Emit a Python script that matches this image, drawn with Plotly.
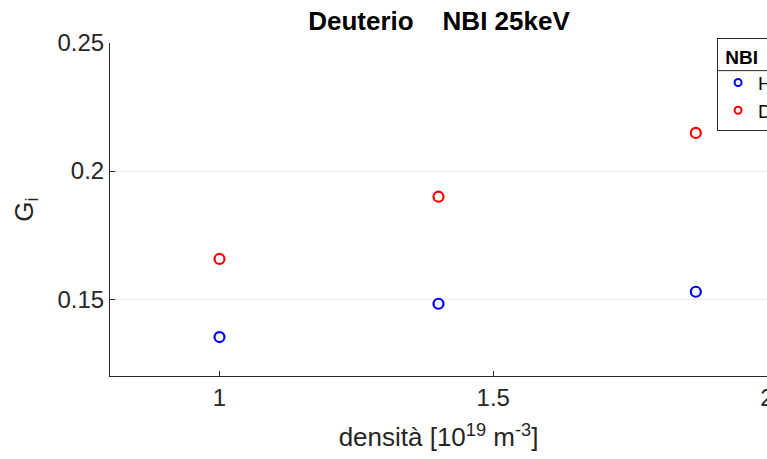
import plotly.graph_objects as go

densita = [1.0, 1.4, 1.87]
G_H = [0.1352, 0.1482, 0.1529]
G_D = [0.1657, 0.1900, 0.2149]
series_names = ["H", "D"]
series_colors = ["#0000ff", "#ff0000"]
x_ticks = [1, 1.5, 2]
y_ticks = [0.15, 0.2, 0.25]

FONT = "Liberation Sans, Arial, Helvetica, sans-serif"
AX = "#262626"

fig = go.Figure()
for yv, nm, col in zip([G_H, G_D], series_names, series_colors):
    fig.add_trace(go.Scatter(x=densita, y=yv, mode="markers", name=nm, showlegend=False,
                             marker=dict(symbol="circle-open", size=10, color=col,
                                         line=dict(width=2.2, color=col))))
# legend entries (smaller symbols, as in the MATLAB legend)
for nm, col in zip(series_names, series_colors):
    fig.add_trace(go.Scatter(x=[None], y=[None], mode="markers", name=nm, showlegend=True,
                             marker=dict(symbol="circle-open", size=7, color=col,
                                         line=dict(width=2, color=col))))

# legend background and title separator (MATLAB-style legend title)
fig.add_shape(type="rect", xref="paper", yref="paper", x0=0.924, x1=1.2, y0=0.76, y1=1.015,
              fillcolor="white", line=dict(width=0), layer="above")
fig.add_shape(type="line", xref="paper", yref="paper", x0=0.924, x1=1.2, y0=0.917, y1=0.917,
              line=dict(color=AX, width=1), layer="above")

fig.update_layout(
    width=767, height=459,
    margin=dict(l=110, r=0, t=43, b=83, autoexpand=False),
    paper_bgcolor="white", plot_bgcolor="white",
    font=dict(family=FONT, size=24, color=AX),
    title=dict(text="<b>Deuterio&nbsp;&nbsp;&nbsp;&nbsp;NBI 25keV</b>", x=(439 / 767), xanchor="center",
               y=1 - 21 / 459, yanchor="middle", font=dict(size=26, color="#000000")),
    showlegend=True,
    legend=dict(x=0.924, y=1.015, xanchor="left", yanchor="top", xref="paper", yref="paper",
                bgcolor="rgba(0,0,0,0)", bordercolor=AX, borderwidth=1,
                font=dict(size=19, color="#000000"),
                title=dict(text="<b>&nbsp;NBI</b>", font=dict(size=19, color="#000000")),
                itemwidth=30, tracegroupgap=0),
    xaxis=dict(range=[0.8, 2.0], tickvals=x_ticks, ticktext=[str(v) for v in x_ticks],
               showgrid=False, zeroline=False, showline=True, linecolor=AX, linewidth=1,
               ticks="inside", ticklen=5, tickcolor=AX, tickfont=dict(size=24, color=AX),
               ticklabeloverflow="allow",
               title=dict(text="densità [10<sup>19</sup> m<sup>-3</sup>]", font=dict(size=26, color=AX),
                          standoff=18)),
    yaxis=dict(range=[0.12, 0.25], tickvals=y_ticks, ticktext=["0.15", "0.2", "0.25"],
               showgrid=True, gridcolor="#ebebeb", gridwidth=1, zeroline=False,
               showline=True, linecolor=AX, linewidth=1,
               ticks="inside", ticklen=5, tickcolor=AX, tickfont=dict(size=24, color=AX),
               title=dict(text="G<sub>i</sub>", font=dict(size=26, color=AX), standoff=16)),
)

fig.write_html("out.html")
